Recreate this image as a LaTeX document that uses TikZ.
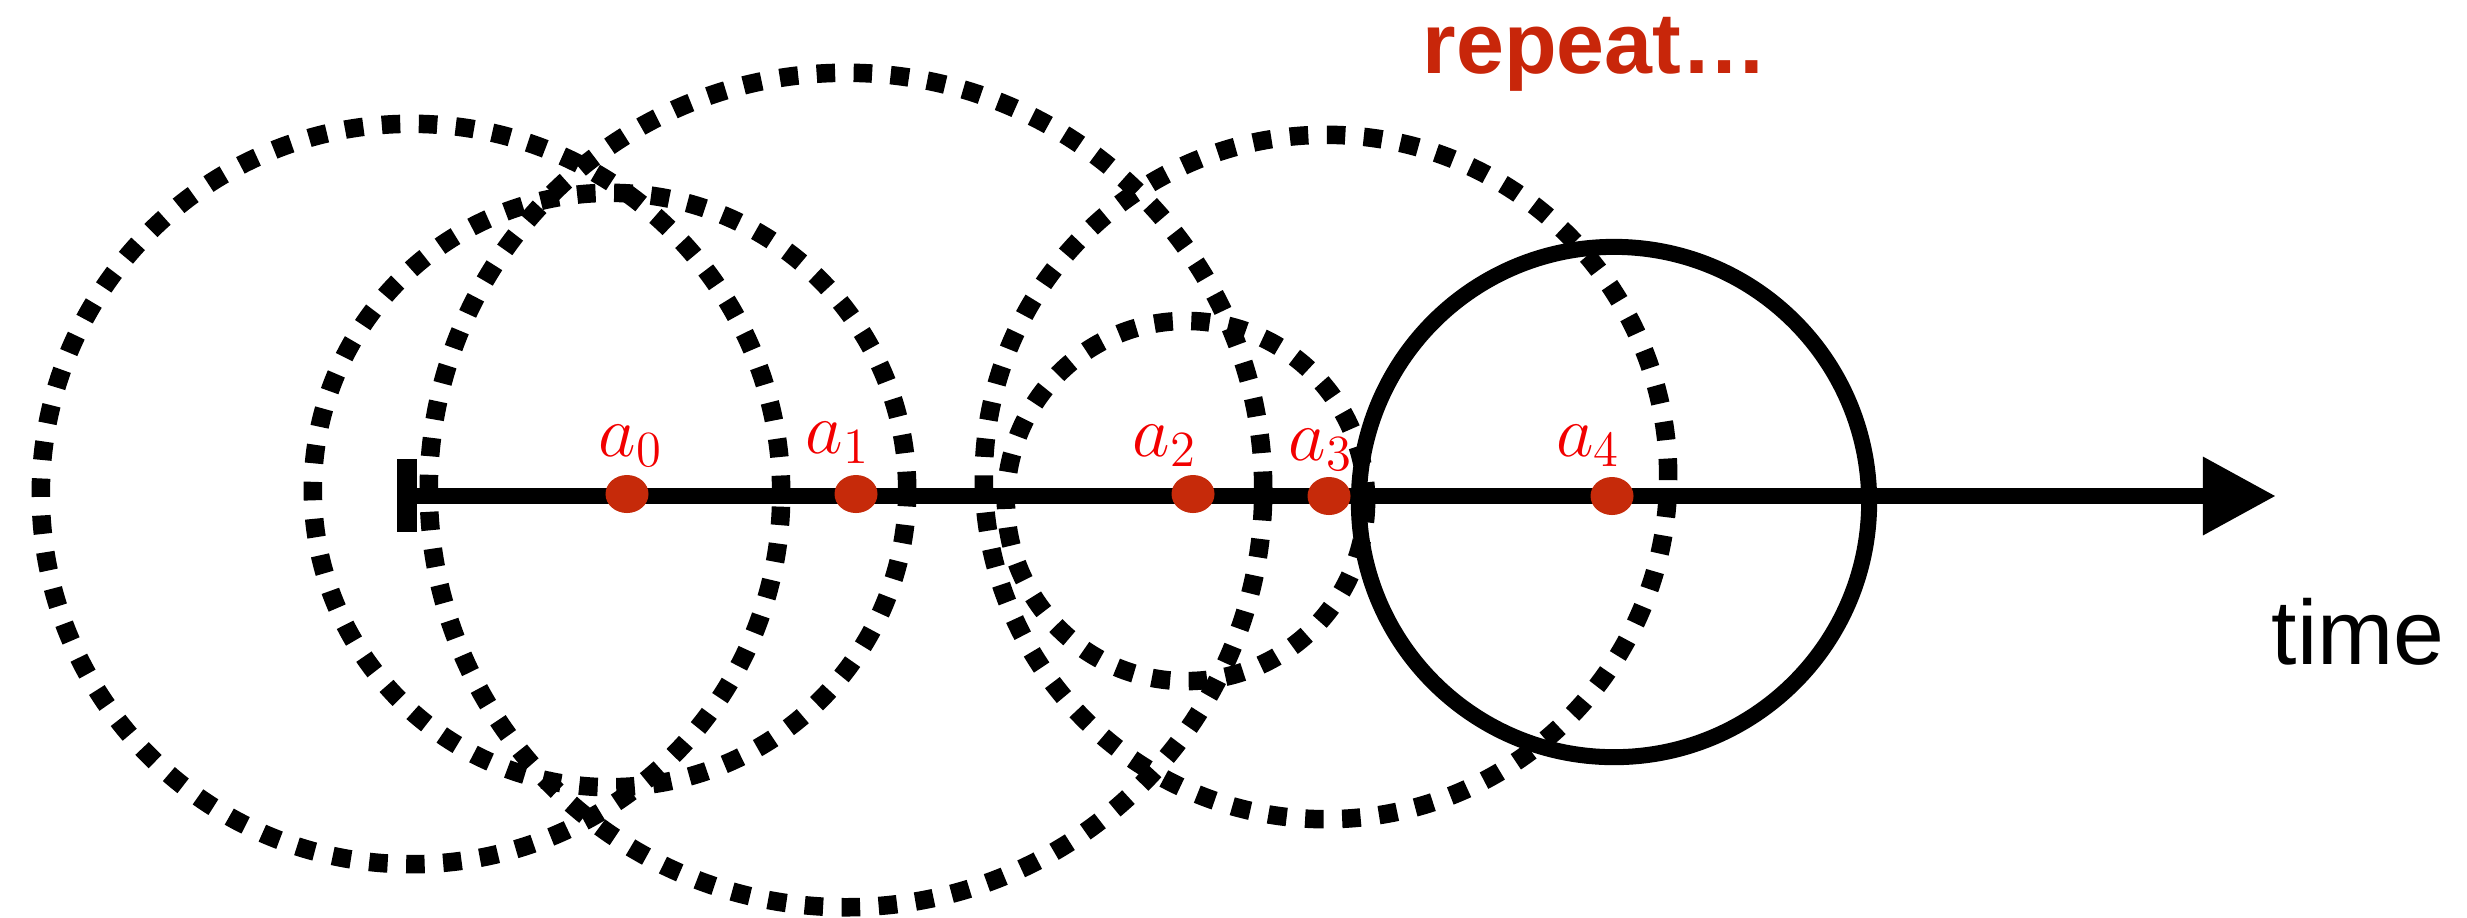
\documentclass[tikz,border=0pt]{standalone}
\usepackage{fontspec}
\newfontfamily\sansfont{Liberation Sans}
\usetikzlibrary{arrows.meta,shapes.geometric}
\definecolor{dotred}{HTML}{C62A0A}
\definecolor{labred}{HTML}{F20000}
\definecolor{repred}{HTML}{C8260A}
\tikzset{
  dotcircle/.style={line width=0.185cm, dash pattern=on 0.185cm off 0.185cm},
  solidcircle/.style={line width=0.16cm},
  axisline/.style={line width=0.16cm, -{Triangle[length=0.73cm,width=0.74cm]}},
  tickline/.style={line width=0.2cm},
  evdot/.style={ellipse, fill=dotred, inner sep=0pt, minimum width=0.43cm, minimum height=0.38cm},
  evlabel/.style={text=labred, font=\fontsize{21.5}{25}\selectfont, anchor=base, inner sep=0pt}
}
\begin{document}
\begin{tikzpicture}[x=0.01cm,y=-0.01cm]
\useasboundingbox (0,0) rectangle (2467,917);
% dotted circles
\coordinate (c1) at (411,494);
\coordinate (c2) at (610,490);
\coordinate (c3) at (846,490);
\coordinate (c4) at (1326,477);
\coordinate (c5) at (1186,501);
\coordinate (c6) at (1614,502);
\draw[dotcircle] (c1) circle[radius=3.70cm];
\draw[dotcircle] (c2) circle[radius=2.97cm];
\draw[dotcircle] (c3) circle[radius=4.17cm];
\draw[dotcircle] (c4) circle[radius=3.42cm];
\draw[dotcircle] (c5) circle[radius=1.80cm];
\draw[solidcircle] (c6) circle[radius=2.55cm];
% axis
\coordinate (start) at (407,496);
\coordinate (tip) at (2276,496);
\coordinate (ticktop) at (407,459);
\coordinate (tickbot) at (407,532);
\draw[axisline] (start) -- (tip);
\draw[tickline] (ticktop) -- (tickbot);
% events
\node[evdot] (a0) at (627,494) {};
\node[evdot] (a1) at (856,494) {};
\node[evdot] (a2) at (1193,494) {};
\node[evdot] (a3) at (1329,496) {};
\node[evdot] (a4) at (1612,496) {};
\node[evlabel] (l0) at (631,456) {$a_0$};
\node[evlabel] (l1) at (838,453) {$a_1$};
\node[evlabel] (l2) at (1165,456) {$a_2$};
\node[evlabel] (l3) at (1321,460) {$a_3$};
\node[evlabel] (l4) at (1588,456) {$a_4$};
% texts
\node[anchor=base, inner sep=0pt, font=\sansfont\fontsize{26}{30}\selectfont] (time) at (2358,664) {time};
\node[anchor=base, inner sep=0pt, text=repred, font=\sansfont\bfseries\fontsize{24.5}{29}\selectfont] (rep) at (1595,73) {repeat…};
\end{tikzpicture}
\end{document}
